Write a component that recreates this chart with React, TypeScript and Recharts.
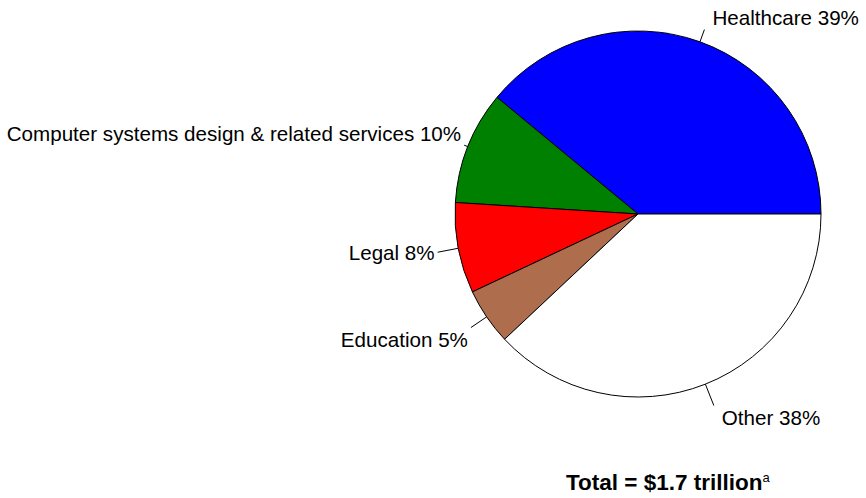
import { PieChart, Pie, Cell } from "recharts";

const sectors = ["Healthcare", "Computer systems design & related services", "Legal", "Education", "Other"];
const shares = [39, 10, 8, 5, 38];
const sliceColors = ["#0000FF", "#008000", "#FF0000", "#AE6E4E", "#FFFFFF"];

const data = sectors.map((name, i) => ({ name, value: shares[i] }));

const RADIAN = Math.PI / 180;
const leaderLengths = [13, 4, 21, 19, 23];
const font = "'Liberation Sans', Arial, sans-serif";

function renderLabel(props: any) {
  const { cx, cy, midAngle, outerRadius, index, name, value } = props;
  const cos = Math.cos(-midAngle * RADIAN);
  const sin = Math.sin(-midAngle * RADIAN);
  const len = leaderLengths[index] ?? 14;
  const x1 = cx + outerRadius * cos;
  const y1 = cy + outerRadius * sin;
  const x2 = cx + (outerRadius + len) * cos;
  const y2 = cy + (outerRadius + len) * sin;
  const right = cos > 0;
  const tx = x2 + (right ? 8 : -3);
  const ty = y2 + (Math.abs(sin) > 0.3 ? Math.sign(sin) * 12 : 0);
  return (
    <g key={`lbl-${index}`}>
      <line x1={x1} y1={y1} x2={x2} y2={y2} stroke="#000" strokeWidth={1} />
      <text
        x={tx}
        y={ty}
        textAnchor={right ? "start" : "end"}
        dominantBaseline="central"
        fontFamily={font}
        fontSize={20.6}
        fill="#000"
      >
        {`${name} ${value}%`}
      </text>
    </g>
  );
}

export default function App() {
  return (
    <div style={{ position: "absolute", left: 0, top: 0, width: 866, height: 498, background: "#fff" }}>
      <PieChart width={866} height={498} margin={{ top: 0, right: 0, bottom: 0, left: 0 }}>
        <Pie
          data={data}
          dataKey="value"
          nameKey="name"
          cx={638}
          cy={214}
          outerRadius={183}
          startAngle={0}
          endAngle={360}
          stroke="#000"
          strokeWidth={1}
          label={renderLabel}
          labelLine={false}
          isAnimationActive={false}
        >
          {data.map((d, i) => (
            <Cell key={d.name} fill={sliceColors[i]} />
          ))}
        </Pie>
      </PieChart>
      <div
        style={{
          position: "absolute",
          left: 566,
          top: 471,
          fontFamily: font,
          fontSize: 22.5,
          fontWeight: "bold",
          lineHeight: "24px",
          whiteSpace: "nowrap",
        }}
      >
        Total = $1.7 trillion
        <sup style={{ fontSize: 13, fontWeight: "normal", verticalAlign: "top", lineHeight: "13px" }}>a</sup>
      </div>
    </div>
  );
}
